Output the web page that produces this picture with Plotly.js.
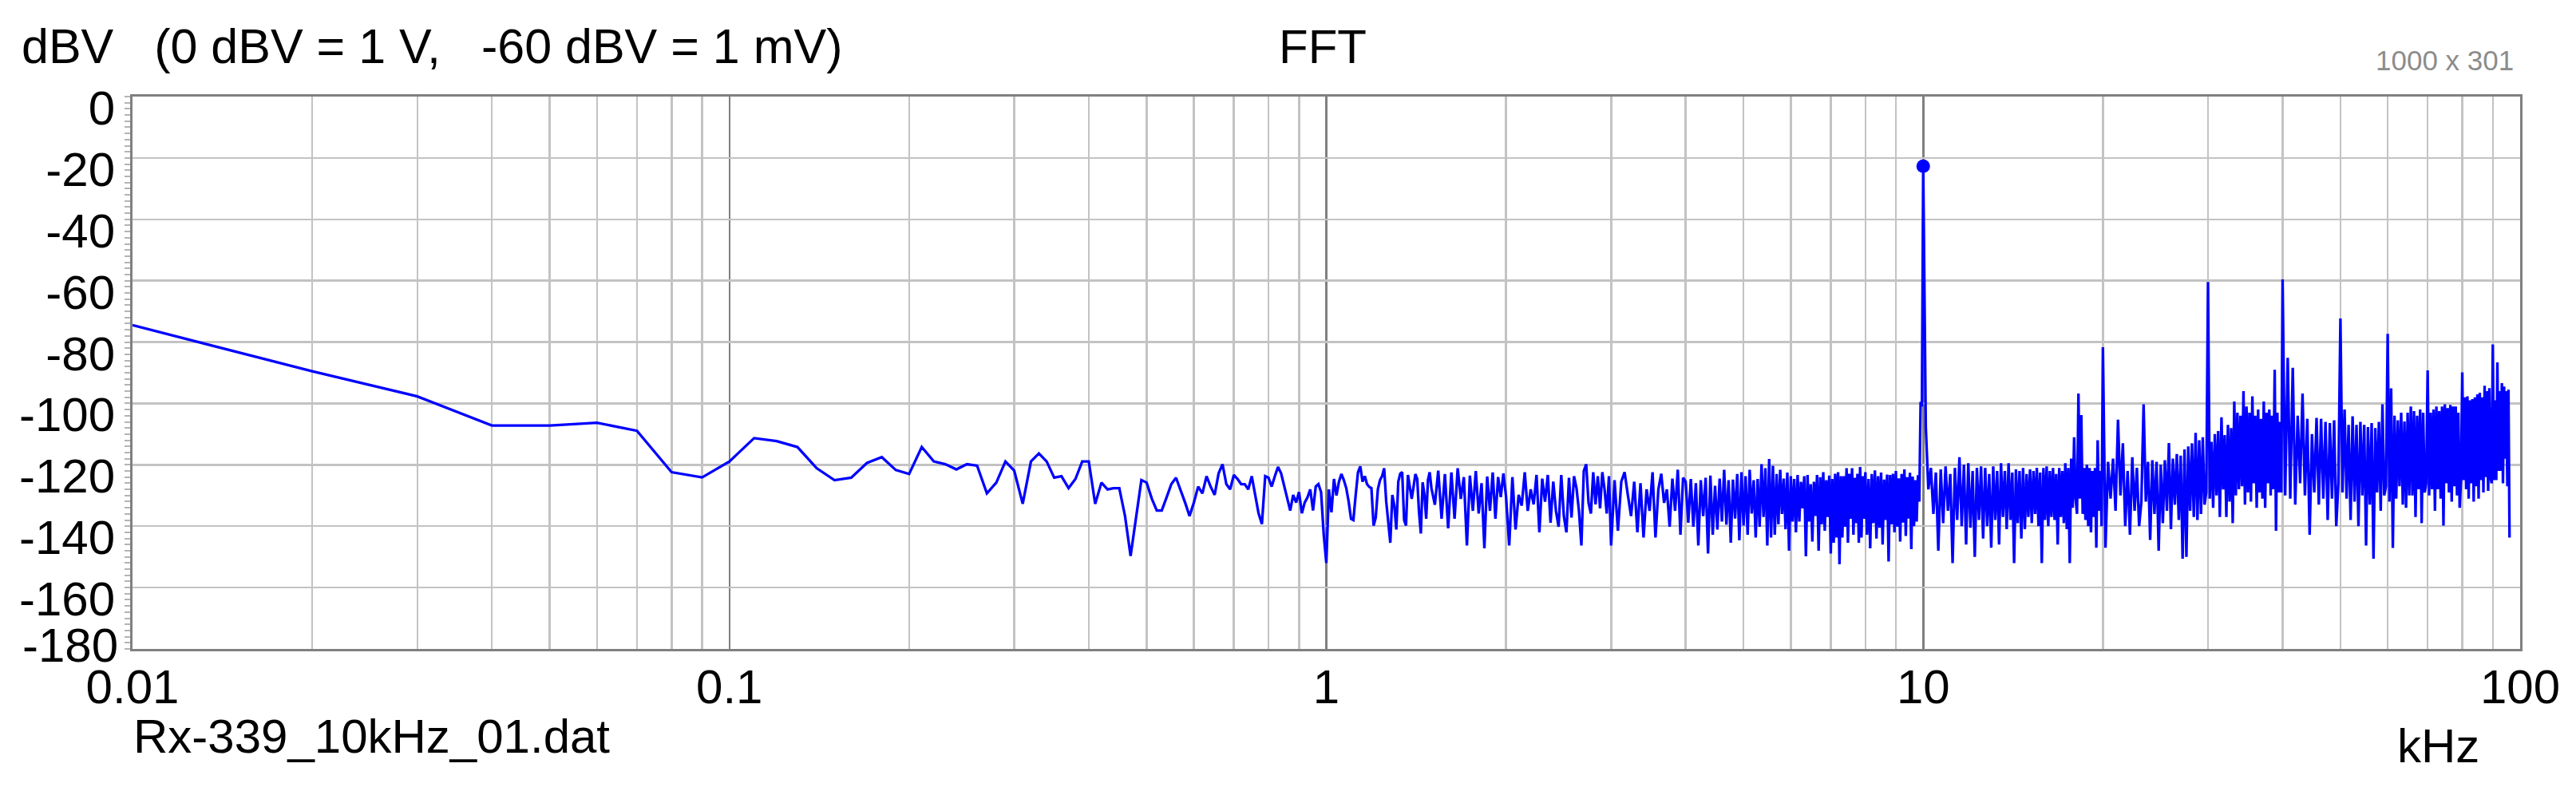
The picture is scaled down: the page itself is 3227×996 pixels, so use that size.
<!DOCTYPE html>
<html>
<head>
<meta charset="utf-8">
<script src="https://cdn.plot.ly/plotly-3.0.1.min.js"></script>
<style>
    html, body { margin: 0; padding: 0; background: #ffffff; }
    #chart { width: 3227px; height: 996px; }
</style>
</head>
<body>
<div id="chart"></div>
<script>
// 10 Hz bins below 1 kHz (kHz / dBV)
const lowFreq = [
    0.01, 0.02, 0.03, 0.04, 0.05, 0.06, 0.07, 0.08, 0.09,
    0.10, 0.11, 0.12, 0.13, 0.14, 0.15, 0.16, 0.17, 0.18, 0.19,
    0.20, 0.21, 0.22, 0.23, 0.24, 0.25, 0.26, 0.27, 0.28, 0.29,
    0.30, 0.31, 0.32, 0.33, 0.34, 0.35, 0.36, 0.37, 0.38, 0.39,
    0.40, 0.41, 0.42, 0.43, 0.44, 0.45, 0.46, 0.47, 0.48, 0.49,
    0.50, 0.51, 0.52, 0.53, 0.54, 0.55, 0.56, 0.57, 0.58, 0.59,
    0.60, 0.61, 0.62, 0.63, 0.64, 0.65, 0.66, 0.67, 0.68, 0.69,
    0.70, 0.71, 0.72, 0.73, 0.74, 0.75, 0.76, 0.77, 0.78, 0.79,
    0.80, 0.81, 0.82, 0.83, 0.84, 0.85, 0.86, 0.87, 0.88, 0.89,
    0.90, 0.91, 0.92, 0.93, 0.94, 0.95, 0.96, 0.97, 0.98, 0.99
];
const lowLevel = [
    -74.5, -89.5, -97.7, -107.2, -107.2, -106.3, -108.9, -122.4, -124.1,
    -118.9, -111.3, -112.3, -114.2, -121.1, -125, -124.2, -119.4, -117.5, -121.7,
    -123, -114.2, -118.9, -119.8, -121.5, -119.8, -120.3, -129.3, -125.8, -118.9,
    -121.9, -132.7, -118.9, -116.3, -118.9, -124.2, -123.7, -127.6, -124.6, -118.9,
    -118.9, -132.7, -125.8, -128, -127.6, -127.6, -136.7, -149.7, -137.6, -125,
    -125.8, -131, -134.9, -134.9, -130.6, -126.3, -124.2, -128, -132.3, -136.7,
    -132.3, -127.1, -129.3, -123.7, -127.1, -129.8, -122.8, -119.8, -126.3, -128,
    -123.3, -124.6, -126.3, -126.3, -128, -123.7, -129.8, -135.8, -139.3, -123.7,
    -124.2, -127.1, -123.7, -120.7, -122.8, -127.1, -131.4, -134.9, -129.8, -132.3,
    -128.9, -135.8, -132.3, -130.6, -128, -134.9, -127.1, -126.3, -128.9, -142.7
];

// 1 kHz to 10 kHz
const midFreq = [
    1.00, 1.01, 1.02, 1.03, 1.04, 1.05, 1.06, 1.07, 1.08, 1.09,
    1.10, 1.11, 1.12, 1.13, 1.14, 1.15, 1.16, 1.17, 1.18, 1.19,
    1.20, 1.21, 1.22, 1.23, 1.24, 1.25, 1.26, 1.27, 1.28, 1.29,
    1.30, 1.31, 1.32, 1.33, 1.34, 1.35, 1.36, 1.37, 1.38, 1.39,
    1.40, 1.41, 1.42, 1.43, 1.44, 1.45, 1.46, 1.47, 1.48, 1.49,
    1.50, 1.52, 1.54, 1.56, 1.58, 1.60, 1.62, 1.64, 1.66, 1.68,
    1.70, 1.72, 1.74, 1.76, 1.78, 1.80, 1.82, 1.84, 1.86, 1.88,
    1.90, 1.92, 1.94, 1.96, 1.98,
    2.000, 2.025, 2.050, 2.075, 2.100, 2.125, 2.150, 2.175, 2.200, 2.225,
    2.250, 2.275, 2.300, 2.325, 2.350, 2.375, 2.400, 2.425, 2.450, 2.475,
    2.500, 2.525, 2.550, 2.575, 2.600, 2.625, 2.650, 2.675, 2.700, 2.725,
    2.750, 2.775, 2.800, 2.825, 2.850, 2.875, 2.900, 2.925, 2.950, 2.975,
    3.00, 3.04, 3.08, 3.12, 3.16, 3.20, 3.24, 3.28, 3.32, 3.36,
    3.40, 3.44, 3.48, 3.52, 3.56, 3.60, 3.64, 3.68, 3.72, 3.76,
    3.80, 3.84, 3.88, 3.92, 3.96,
    4.00, 4.04, 4.08, 4.12, 4.16, 4.20, 4.24, 4.28, 4.32, 4.36,
    4.40, 4.44, 4.48, 4.52, 4.56, 4.60, 4.64, 4.68, 4.72, 4.76,
    4.80, 4.84, 4.88, 4.92, 4.96,
    5.00, 5.04, 5.08, 5.12, 5.16, 5.20, 5.24, 5.28, 5.32, 5.36,
    5.40, 5.44, 5.48, 5.52, 5.56, 5.60, 5.64, 5.68, 5.72, 5.76,
    5.80, 5.84, 5.88, 5.92, 5.96,
    6.00, 6.04, 6.08, 6.12, 6.16, 6.20, 6.24, 6.28, 6.32, 6.36,
    6.40, 6.44, 6.48, 6.52, 6.56, 6.60, 6.64, 6.68, 6.72, 6.76,
    6.80, 6.84, 6.88, 6.92, 6.96,
    7.00, 7.04, 7.08, 7.12, 7.16, 7.20, 7.24, 7.28, 7.32, 7.36,
    7.40, 7.44, 7.48, 7.52, 7.56, 7.60, 7.64, 7.68, 7.72, 7.76,
    7.80, 7.84, 7.88, 7.92, 7.96,
    8.00, 8.05, 8.10, 8.15, 8.20, 8.25, 8.30, 8.35, 8.40, 8.45,
    8.50, 8.55, 8.60, 8.65, 8.70, 8.75, 8.80, 8.85, 8.90, 8.95,
    9.00, 9.05, 9.10, 9.15, 9.20, 9.25, 9.30, 9.35, 9.40, 9.45,
    9.50, 9.55, 9.60, 9.65, 9.70, 9.75, 9.80, 9.85, 9.90, 9.95
];
const midLevel = [
    -152, -128, -135.5, -124.6, -130, -125.5, -123, -125, -127.6, -132,
    -137.6, -138, -129.8, -122.4, -120.5, -125.5, -123.7, -126.3, -127.2, -127.6,
    -139.8, -137.2, -128, -125, -123.7, -121.1, -132, -138, -145.4, -129.8,
    -133.3, -141.1, -125.5, -122.9, -122.4, -138, -139.8, -123.3, -128, -131.1,
    -127.2, -123, -124.6, -135.5, -142.4, -125.7, -129.8, -137.6, -125, -122.4,
    -127.6, -133, -121.9, -137.6, -123, -140.7, -122.5, -137.6, -121.1, -131.1,
    -124, -146.3, -123.5, -135, -122, -135.9, -126, -147.2, -123.8, -135,
    -122.5, -137.6, -124, -130.5, -122.8,
    -130.2, -146.3, -124, -141.1, -129.8, -133.3, -122.4, -135, -128, -132.9,
    -123.3, -142, -124.5, -132, -123.3, -138.9, -125.5, -135, -140.2, -123.3,
    -136.7, -142, -124.2, -137.2, -123.7, -127.6, -135, -146.3, -122, -119.8,
    -132.4, -135.9, -122.4, -132.9, -123.7, -134.2, -122.4, -128, -135.9, -123.7,
    -146.3, -125, -141.5, -125.5, -122.4, -129.8, -136.7, -125.5, -142, -126,
    -143.7, -128, -135, -122.4, -143.7, -128, -122.9, -132.4, -128, -140.2,
    -124.5, -135, -121.6, -142.8, -124.2,
    -125.5, -138.9, -124.6, -140.2, -126, -146.3, -125, -136.7, -124.2, -148.9,
    -123.5, -142.8, -126.8, -141.1, -124.5, -138.5, -121.6, -139.5, -125, -145.4,
    -124.8, -137.5, -123, -144.6, -122.4,
    -139.8, -123.7, -142.8, -121.6, -135.9, -125, -143.7, -124.6, -140.2, -119.8,
    -137, -121.1, -146.3, -118.1, -143.7, -120.3, -142.8, -123, -139.4, -121.6,
    -136, -124.5, -141, -122.5, -148,
    -123.7, -138.5, -124.6, -142, -123.3, -138.5, -125.5, -134.2, -123.7, -149.8,
    -123.3, -138.5, -126.3, -145, -125.5, -136.7, -123.3, -148, -124, -139.4,
    -122.4, -141.5, -125, -137, -123.5,
    -148.9, -124.6, -145.4, -122.9, -143.7, -122.4, -152.4, -123.7, -143.7, -123.7,
    -140.2, -121.1, -145.4, -122.9, -137.6, -121.1, -142.8, -124.2, -139, -122.9,
    -145.4, -120.7, -143.7, -123.7, -137.6,
    -122.4, -142.8, -124.6, -147.2, -123, -139, -121.8, -144, -123.7, -140.5,
    -122.5, -146, -124.8, -138, -123.2, -151.5, -123.3, -139.4, -122.9, -142,
    -122, -140.2, -124.4, -145, -123, -138.8, -121.5, -143.2, -124, -137.5,
    -122.6, -147.5, -123.8, -140, -125, -138.5, -123.4, -132, -99.5, -101
];

// 10 kHz to the end of the record (96 kHz)
const highFreq = [
    10.0, 10.1, 10.2, 10.3, 10.4, 10.5, 10.6, 10.7, 10.8, 10.9,
    11.0, 11.1, 11.2, 11.3, 11.4, 11.5, 11.6, 11.7, 11.8, 11.9,
    12.0, 12.1, 12.2, 12.3, 12.4, 12.5, 12.6, 12.7, 12.8, 12.9,
    13.0, 13.1, 13.2, 13.3, 13.4, 13.5, 13.6, 13.7, 13.8, 13.9,
    14.0, 14.1, 14.2, 14.3, 14.4, 14.5, 14.6, 14.7, 14.8, 14.9,
    15.0, 15.1, 15.2, 15.3, 15.4, 15.5, 15.6, 15.7, 15.8, 15.9,
    16.0, 16.1, 16.2, 16.3, 16.4, 16.5, 16.6, 16.7, 16.8, 16.9,
    17.0, 17.1, 17.2, 17.3, 17.4, 17.5, 17.6, 17.7, 17.8, 17.9,
    18.0, 18.1, 18.2, 18.3, 18.4, 18.5, 18.6, 18.7, 18.8, 18.9,
    19.0, 19.1, 19.2, 19.3, 19.4, 19.5, 19.6, 19.7, 19.8, 19.9,
    20.0, 20.2, 20.4, 20.6, 20.8, 21.0, 21.2, 21.4, 21.6, 21.8,
    22.0, 22.2, 22.4, 22.6, 22.8, 23.0, 23.2, 23.4, 23.6, 23.8,
    24.0, 24.2, 24.4, 24.6, 24.8, 25.0, 25.2, 25.4, 25.6, 25.8,
    26.0, 26.2, 26.4, 26.6, 26.8, 27.0, 27.2, 27.4, 27.6, 27.8,
    28.0, 28.2, 28.4, 28.6, 28.8, 29.0, 29.2, 29.4, 29.6, 29.8,
    30.0, 30.2, 30.4, 30.6, 30.8, 31.0, 31.2, 31.4, 31.6, 31.8,
    32.0, 32.2, 32.4, 32.6, 32.8, 33.0, 33.2, 33.4, 33.6, 33.8,
    34.0, 34.2, 34.4, 34.6, 34.8, 35.0, 35.2, 35.4, 35.6, 35.8,
    36.0, 36.2, 36.4, 36.6, 36.8, 37.0, 37.2, 37.4, 37.6, 37.8,
    38.0, 38.2, 38.4, 38.6, 38.8, 39.0, 39.2, 39.4, 39.6, 39.8,
    40.0, 40.4, 40.8, 41.2, 41.6, 42.0, 42.4, 42.8, 43.2, 43.6,
    44.0, 44.4, 44.8, 45.2, 45.6, 46.0, 46.4, 46.8, 47.2, 47.6,
    48.0, 48.4, 48.8, 49.2, 49.6, 50.0, 50.4, 50.8, 51.2, 51.6,
    52.0, 52.4, 52.8, 53.2, 53.6, 54.0, 54.4, 54.8, 55.2, 55.6,
    56.0, 56.4, 56.8, 57.2, 57.6, 58.0, 58.4, 58.8, 59.2, 59.6,
    60.0, 60.4, 60.8, 61.2, 61.6, 62.0, 62.4, 62.8, 63.2, 63.6,
    64.0, 64.4, 64.8, 65.2, 65.6, 66.0, 66.4, 66.8, 67.2, 67.6,
    68.0, 68.4, 68.8, 69.2, 69.6, 70.0, 70.4, 70.8, 71.2, 71.6,
    72.0, 72.4, 72.8, 73.2, 73.6, 74.0, 74.4, 74.8, 75.2, 75.6,
    76.0, 76.4, 76.8, 77.2, 77.6, 78.0, 78.4, 78.8, 79.2, 79.6,
    80.0, 80.4, 80.8, 81.2, 81.6, 82.0, 82.4, 82.8, 83.2, 83.6,
    84.0, 84.4, 84.8, 85.2, 85.6, 86.0, 86.4, 86.8, 87.2, 87.6,
    88.0, 88.4, 88.8, 89.2, 89.6, 90.0, 90.4, 90.8, 91.2, 91.6,
    92.0, 92.4, 92.8, 93.2, 93.6, 94.0, 94.4, 94.8, 95.2, 95.6,
    96.0
];
const highLevel = [
    -22.7, -107.7, -128, -121, -136, -122.5, -148, -121.5, -139, -120.5,
    -135, -123, -152, -121, -138, -117.5, -140, -120, -146, -119.5,
    -140.5, -122, -150, -121, -138, -120.5, -144, -121, -140, -123,
    -147, -120.5, -138, -122, -146, -119.5, -137, -122, -141, -119.5,
    -138, -122.5, -152, -121.5, -139, -122, -144, -121, -141, -123,
    -137, -121.5, -139, -122, -136, -121, -140, -122.5, -152, -121,
    -138, -120.5, -140, -122, -137, -121, -138, -123, -146, -121,
    -137, -122, -139, -119.5, -141, -121, -152, -118, -134, -111,
    -131, -136, -96.8, -131, -103.8, -136, -121, -138, -120, -140,
    -121, -142, -122, -137, -121, -147, -112, -135, -122, -140,
    -81.7, -147, -119, -131, -118, -135, -105.3, -130, -113, -140,
    -122, -142.8, -117.5, -135, -121, -140, -132, -100.3, -132, -119,
    -144.5, -118.5, -136, -119, -148, -120, -139, -118.5, -135, -112.9,
    -141, -118, -133, -116.5, -138, -117, -150.6, -115, -150, -114,
    -135, -113, -137, -109.6, -138, -112, -136, -111, -133, -129,
    -60.4, -131, -112.5, -134, -110, -130, -109, -137, -104.5, -128,
    -110.3, -137, -107, -132, -108, -139, -99.4, -130, -103, -128,
    -104, -127, -96, -133, -101, -129, -103, -132, -97.7, -126,
    -104, -134, -102, -129, -105, -131, -99.4, -134, -103, -126,
    -102, -130, -104, -128, -89, -141.5, -103, -129, -106, -129,
    -59.6, -130, -85.1, -131, -88.4, -133, -104, -126, -96.8, -130,
    -105, -142.8, -110, -129, -104.7, -133, -105, -131, -106, -138,
    -106.4, -131, -105.5, -140, -126, -72.3, -129, -102, -131, -107,
    -138, -104.2, -132, -107, -140, -106, -130, -107, -146.3, -107.7,
    -133, -106.4, -150.6, -108, -129, -106, -135, -100.3, -130, -127,
    -77.3, -132, -95.1, -147.1, -104, -131, -105.5, -127, -103, -133,
    -105.9, -134, -103, -130, -101, -130, -102.5, -137, -104, -128,
    -102, -139, -103, -129, -126, -89.2, -130, -103, -128, -102,
    -135, -101, -128, -102.5, -131, -101, -139.8, -100.3, -126, -101.5,
    -129, -100.5, -132, -101, -127, -101, -130, -103, -134, -125,
    -89.9, -125, -98, -128, -97.7, -131, -99, -126, -98.6, -132,
    -98, -127, -97, -131, -96.5, -125, -98, -129, -94.2, -124,
    -96, -128.5, -95, -124, -126, -80.8, -125, -99, -125, -86.6,
    -122, -96, -122, -93.4, -126, -94.5, -118, -96, -127, -95.5,
    -143.7
];

// marked peak (test tone)
const peakFreq = [10];
const peakLevel = [-22.7];

const freqTicks = [0.01, 0.1, 1, 10, 100];
const freqTickText = ["0.01", "0.1", "1", "10", "100"];
const decadeStarts = [0.01, 0.1, 1, 10];
const decadeSteps = [2, 3, 4, 5, 6, 7, 8, 9];
const levelTicks = [0, -20, -40, -60, -80, -100, -120, -140, -160, -180];
const levelTickText = ["0", "-20", "-40", "-60", "-80", "-100", "-120", "-140", "-160", "-180"];

const font = '"Liberation Sans", Arial, sans-serif';
const W = 3227, H = 996;
const margin = { l: 166, r: 70, t: 121, b: 183 };
const plotW = W - margin.l - margin.r;
const plotH = H - margin.t - margin.b;
const px = x => (x - margin.l) / plotW;
const py = y => (H - margin.b - y) / plotH;

const minorFreq = decadeStarts.flatMap(d => decadeSteps.map(s => +(d * s).toPrecision(3)));

const freq = lowFreq.concat(midFreq, highFreq);
const level = lowLevel.concat(midLevel, highLevel);

const traces = [{
    x: freq,
    y: level,
    type: "scatter",
    mode: "lines",
    line: { color: "#0000ff", width: 3.3 },
    hoverinfo: "skip"
}, {
    x: peakFreq,
    y: peakLevel,
    yaxis: "y2",
    type: "scatter",
    mode: "markers",
    marker: { color: "#0000ff", size: 17 },
    hoverinfo: "skip"
}];

const layout = {
    width: W,
    height: H,
    margin: { ...margin, pad: 0 },
    paper_bgcolor: "#ffffff",
    plot_bgcolor: "#ffffff",
    showlegend: false,
    font: { family: font, size: 60, color: "#000000" },
    title: {
        text: "FFT",
        xref: "paper",
        x: 0.4985,
        xanchor: "center",
        yref: "container",
        y: 1 - 58 / H,
        yanchor: "middle",
        font: { family: font, size: 60, color: "#000000" }
    },
    xaxis: {
        type: "log",
        range: [-2, 2],
        tickmode: "array",
        tickvals: freqTicks,
        ticktext: freqTickText,
        ticks: "",
        ticklabelstandoff: -7,
        showgrid: true,
        gridcolor: "#808080",
        gridwidth: 2.5,
        minor: {
            tickmode: "array",
            tickvals: minorFreq,
            showgrid: true,
            gridcolor: "#c3c3c3",
            gridwidth: 2.5,
            ticks: ""
        },
        showline: true,
        mirror: true,
        linecolor: "#808080",
        linewidth: 3,
        zeroline: false,
        fixedrange: true
    },
    yaxis: {
        range: [-180, 0],
        tickmode: "array",
        tickvals: levelTicks.slice(0, -1),
        ticktext: levelTickText.slice(0, -1),
        ticks: "outside",
        ticklen: 7,
        tickwidth: 2,
        tickcolor: "#b4b4b4",
        ticklabelstandoff: 0,
        ticklabelshift: 14,
        minor: {
            dtick: 2,
            ticks: "outside",
            ticklen: 7,
            tickwidth: 2,
            tickcolor: "#b4b4b4",
            showgrid: false
        },
        showgrid: true,
        gridcolor: "#c3c3c3",
        gridwidth: 2.5,
        showline: true,
        mirror: true,
        linecolor: "#808080",
        linewidth: 3,
        zeroline: false,
        fixedrange: true
    },
    // bottom label sits a little higher, as in the original
    yaxis2: {
        overlaying: "y",
        side: "left",
        range: [-180, 0],
        tickmode: "array",
        tickvals: levelTicks.slice(-1),
        ticktext: levelTickText.slice(-1),
        ticks: "",
        ticklabelstandoff: 17,
        ticklabelshift: -5,
        showgrid: false,
        showline: false,
        zeroline: false,
        fixedrange: true
    },
    annotations: [{
        text: "dBV\u00a0\u00a0 (0 dBV = 1 V,\u00a0\u00a0 -60 dBV = 1 mV)",
        xref: "paper", yref: "paper",
        x: px(25), y: py(58),
        xanchor: "left", yanchor: "middle",
        showarrow: false,
        font: { family: font, size: 61, color: "#000000" }
    }, {
        text: "1000 x 301",
        xref: "paper", yref: "paper",
        x: px(3151), y: py(76),
        xanchor: "right", yanchor: "middle",
        showarrow: false,
        font: { family: font, size: 35, color: "#8c8c8c" }
    }, {
        text: "Rx-339_10kHz_01.dat",
        xref: "paper", yref: "paper",
        x: px(165), y: py(922),
        xanchor: "left", yanchor: "middle",
        showarrow: false,
        font: { family: font, size: 60, color: "#000000" }
    }, {
        text: "kHz",
        xref: "paper", yref: "paper",
        x: px(3054), y: py(934),
        xanchor: "center", yanchor: "middle",
        showarrow: false,
        font: { family: font, size: 60, color: "#000000" }
    }]
};

Plotly.newPlot("chart", traces, layout, { staticPlot: true, displayModeBar: false });
</script>
</body>
</html>
